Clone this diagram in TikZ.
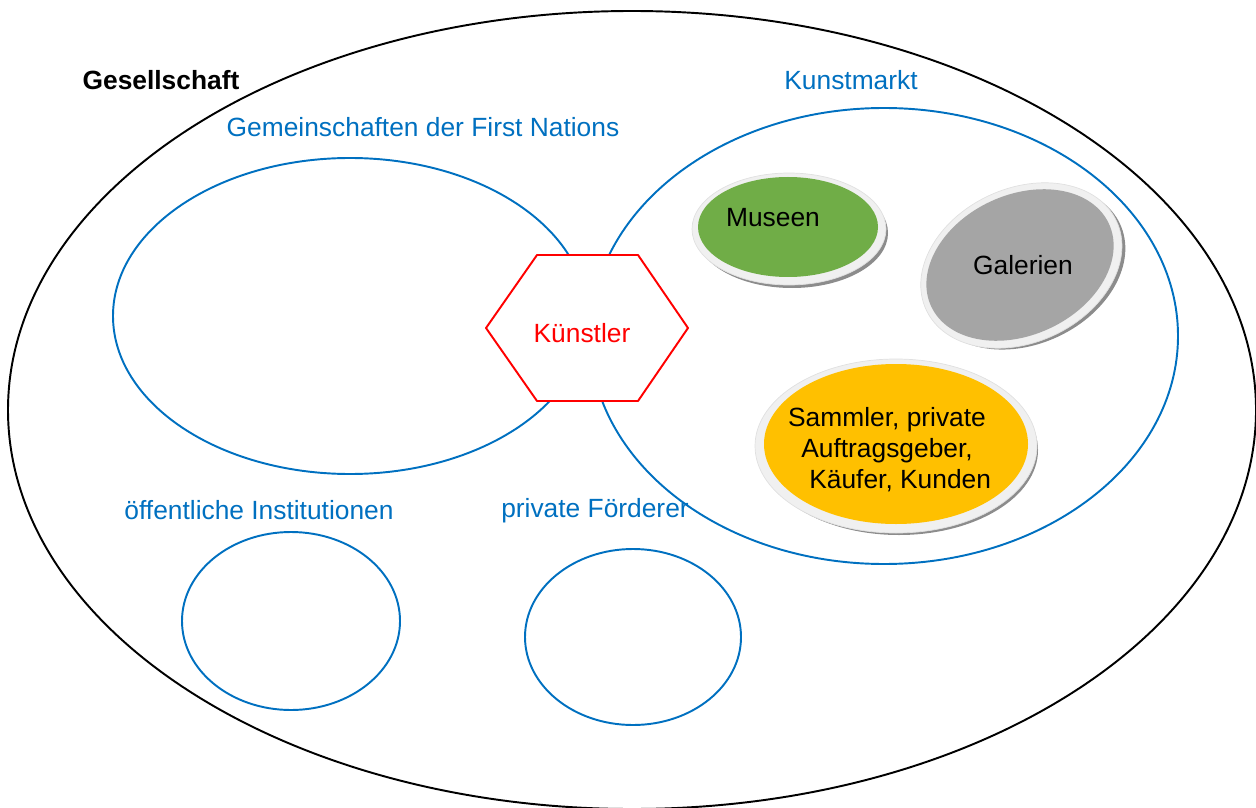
\documentclass[tikz,border=0pt]{standalone}
\usepackage{fontspec}
\setmainfont{Liberation Sans}
\definecolor{blau}{RGB}{0,112,192}
\definecolor{gruen}{RGB}{112,173,71}
\definecolor{grau}{RGB}{165,165,165}
\definecolor{gelb}{RGB}{255,192,0}
\definecolor{rot}{RGB}{255,0,0}
\begin{document}
\begin{tikzpicture}[x=0.02cm, y=-0.02cm, line join=round, line cap=round,
  kreis/.style={draw=blau, line width=1.1pt},
  titel/.style={text=blau, font=\fontsize{15}{18}\selectfont},
  blase/.style={text=black, font=\fontsize{15}{17.6}\selectfont, align=center},
  schatten/.style={fill=black!45},
  rand/.style={fill=black!6, draw=black!12, line width=0.4pt}]
\useasboundingbox (0,0) rectangle (1256,807);
% Gesellschaft (aussen)
\draw[line width=1.1pt] (632,410) ellipse (624 and 399);
\node[font=\bfseries\fontsize{15}{18}\selectfont] (ges) at (161,80) {Gesellschaft};
% Gemeinschaften der First Nations
\draw[kreis] (350,316) ellipse (237 and 158);
\node[titel] (fn) at (423,127) {Gemeinschaften der First Nations};
% Kunstmarkt
\draw[kreis] (884,336) ellipse (294 and 228);
\node[titel] (markt) at (851,80) {Kunstmarkt};
% Museen
\fill[schatten] (792,233) ellipse (96 and 55);
\filldraw[rand] (789,229) ellipse (97 and 56);
\fill[gruen] (788,227) ellipse (90 and 50);
\node[blase] (mus) at (773,218) {Museen};
% Galerien (schraeg)
\begin{scope}[rotate around={25:(1020,265)}]
  \fill[schatten] (1024,270) ellipse (104 and 76);
  \filldraw[rand] (1021,266) ellipse (105 and 77);
  \fill[grau] (1020,265) ellipse (98 and 70);
\end{scope}
\node[blase] (gal) at (1023,265) {Galerien};
% Sammler usw.
\fill[schatten] (899,450) ellipse (139 and 85);
\filldraw[rand] (896,446) ellipse (141 and 87);
\fill[gelb] (896,444) ellipse (132 and 80);
\node[blase] (samm) at (887,450) {Sammler, private\\Auftragsgeber,\\\hspace*{1em}K\"aufer, Kunden};
% oeffentliche Institutionen
\draw[kreis] (291,621) ellipse (109 and 89);
\node[titel] (inst) at (259,510) {öffentliche Institutionen};
% private Foerderer
\draw[kreis] (633,637) ellipse (108 and 88);
\node[titel] (foerd) at (595,511) {private Förderer};
% Kuenstler (Sechseck)
\filldraw[fill=white, draw=rot, line width=1.1pt]
  (486,328) -- (537,255) -- (638,255) -- (688,328) -- (638,401) -- (537,401) -- cycle;
\node[text=rot, font=\fontsize{15}{18}\selectfont] (kuenstler) at (582,333) {Künstler};
\end{tikzpicture}
\end{document}
